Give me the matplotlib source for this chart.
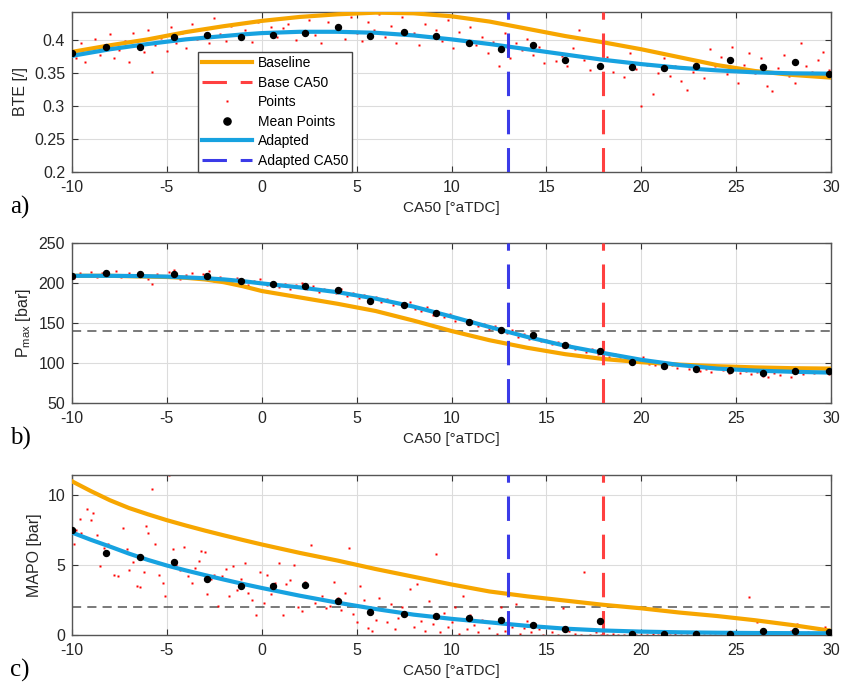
# CA50 sweep: BTE, Pmax and MAPO vs CA50, baseline vs adapted model
import matplotlib.pyplot as plt

plt.rcParams['font.family'] = ['Liberation Sans', 'DejaVu Sans']
plt.rcParams['mathtext.default'] = 'regular'
plt.rcParams['axes.unicode_minus'] = False

# fitted curves (knots every 1 deg up to 0, then every 2 deg)
x_fit = [-10, -9, -8, -7, -6, -5, -4, -3, -2, -1, 0, 2, 4, 6, 8, 10, 12, 14, 16, 18, 20, 22, 24, 26, 28, 30]
bte_base = [0.382, 0.387, 0.392, 0.3965, 0.401, 0.4065, 0.412, 0.4165, 0.421, 0.425, 0.429,
            0.435, 0.439, 0.4415, 0.4405, 0.436, 0.428, 0.417, 0.406, 0.3965, 0.386, 0.374,
            0.362, 0.353, 0.347, 0.343]
bte_adap = [0.376, 0.381, 0.386, 0.390, 0.394, 0.3975, 0.401, 0.4035, 0.406, 0.4085, 0.4105,
            0.4125, 0.4125, 0.411, 0.407, 0.401, 0.394, 0.386, 0.378, 0.370, 0.3635, 0.358,
            0.354, 0.351, 0.3495, 0.349]
pmax_base = [209, 209, 209, 208.5, 208, 207.5, 206.5, 204.5, 201, 196, 190,
             182, 174, 165, 153, 140, 128.5, 119, 111, 105, 101, 98, 96, 94.5, 93.5, 93]
pmax_adap = [209, 209, 209, 208.8, 208.5, 208, 207, 206, 204.5, 202.3, 199.5,
             194.5, 188.5, 180.5, 170.5, 158, 145, 132.5, 121.5, 112.5, 104, 97.5, 93, 90.5, 89, 88]
mapo_base = [10.95, 10.25, 9.6, 9.05, 8.6, 8.18, 7.8, 7.44, 7.1, 6.77, 6.45,
             5.85, 5.3, 4.7, 4.15, 3.6, 3.1, 2.75, 2.45, 2.15, 1.9, 1.6, 1.35, 1.05, 0.7, 0.3]
mapo_adap = [7.3, 6.78, 6.3, 5.8, 5.35, 4.95, 4.6, 4.27, 3.95, 3.64, 3.35,
             2.8, 2.3, 1.85, 1.45, 1.15, 0.9, 0.65, 0.45, 0.32, 0.24, 0.19, 0.16, 0.14, 0.13, 0.12]

# mean points
x_mean = [-10, -8.2, -6.4, -4.6, -2.9, -1.1, 0.6, 2.3, 4.0, 5.7, 7.5, 9.2,
          10.9, 12.6, 14.3, 16.0, 17.8, 19.5, 21.2, 22.9, 24.7, 26.4, 28.1, 29.9]
bte_mean = [0.381, 0.390, 0.389, 0.404, 0.407, 0.405, 0.407, 0.410, 0.420, 0.406, 0.412, 0.406,
            0.395, 0.387, 0.392, 0.370, 0.360, 0.359, 0.357, 0.361, 0.370, 0.359, 0.366, 0.349]
pmax_mean = [209, 212, 211, 211, 209, 203, 199, 196, 191, 178, 172, 162,
             151, 141, 135, 122, 115, 101, 96, 93, 91, 87, 90, 90]
mapo_mean = [7.5, 5.85, 5.55, 5.2, 4.0, 3.5, 3.5, 3.55, 2.45, 1.65, 1.5, 1.35,
             1.2, 1.05, 0.7, 0.4, 1.0, 0.05, 0.05, 0.05, 0.05, 0.3, 0.3, 0.2]

# raw points
bte_px = [-9.8, -9.6, -9.5, -9.3, -9.0, -8.8, -8.5, -8.3, -8.0, -7.8, -7.5, -7.2, -7.0, -6.8, -6.5,
          -6.2, -6.0, -5.8, -5.6, -5.3, -5.0, -4.8, -4.5, -4.2, -4.0, -3.7, -3.4, -3.1, -2.8, -2.5,
          -2.2, -1.9, -1.6, -1.2, -0.9, -0.5, -0.2, 0.2, 0.5, 0.8, 1.1, 1.4, 1.8, 2.1, 2.5,
          2.8, 3.1, 3.5, 3.8, 4.1, 4.4, 4.7, 5.0, 5.3, 5.6, 5.9, 6.2, 6.5, 6.8, 7.1,
          7.4, 7.7, 8.0, 8.3, 8.6, 8.9, 9.2, 9.5, 9.8, 10.1, 10.4, 10.7, 11.0, 11.3, 11.6,
          11.9, 12.2, 12.5, 12.8, 13.1, 13.4, 13.7, 14.0, 14.3, 14.6, 14.9, 15.2, 15.5, 15.8, 16.1,
          16.4, 16.7, 17.0, 17.3, 17.6, 17.9, 18.2, 18.5, 18.8, 19.1, 19.4, 19.7, 20.0, 20.3, 20.6,
          20.9, 21.2, 21.5, 21.8, 22.1, 22.4, 22.7, 23.0, 23.3, 23.6, 23.9, 24.2, 24.5, 24.8, 25.1,
          25.4, 25.7, 26.0, 26.3, 26.6, 26.9, 27.2, 27.5, 27.8, 28.1, 28.4, 28.7, 29.0, 29.3, 29.6, 29.9]
bte_py = [0.372, 0.385, 0.395, 0.366, 0.388, 0.401, 0.378, 0.392, 0.409, 0.372, 0.385, 0.398, 0.366, 0.410, 0.394,
          0.382, 0.415, 0.351, 0.392, 0.403, 0.384, 0.420, 0.396, 0.410, 0.388, 0.425, 0.402, 0.417, 0.395, 0.433,
          0.409, 0.398, 0.421, 0.404, 0.415, 0.397, 0.428, 0.410, 0.420, 0.404, 0.418, 0.425, 0.400, 0.414, 0.431,
          0.407, 0.395, 0.428, 0.445, 0.418, 0.402, 0.435, 0.410, 0.398, 0.428, 0.415, 0.440, 0.405, 0.422, 0.395,
          0.435, 0.445, 0.410, 0.392, 0.425, 0.405, 0.415, 0.398, 0.430, 0.388, 0.412, 0.400, 0.420, 0.392, 0.405,
          0.380, 0.397, 0.360, 0.410, 0.372, 0.395, 0.385, 0.402, 0.378, 0.390, 0.365, 0.382, 0.368, 0.376, 0.360,
          0.388, 0.415, 0.370, 0.354, 0.398, 0.362, 0.375, 0.352, 0.368, 0.344, 0.380, 0.356, 0.300, 0.362, 0.318,
          0.350, 0.372, 0.345, 0.360, 0.338, 0.325, 0.352, 0.368, 0.342, 0.386, 0.360, 0.375, 0.348, 0.390, 0.335,
          0.362, 0.380, 0.350, 0.372, 0.330, 0.322, 0.358, 0.378, 0.345, 0.335, 0.396, 0.360, 0.352, 0.370, 0.382, 0.355]

pmax_px = [-9.9, -9.6, -9.3, -9.0, -8.7, -8.4, -8.0, -7.7, -7.4, -7.0, -6.7, -6.4, -6.0, -5.8, -5.5,
           -5.2, -4.9, -4.6, -4.3, -4.0, -3.7, -3.4, -3.1, -2.8, -2.5, -2.2, -1.9, -1.6, -1.3, -1.0,
           -0.7, -0.4, -0.1, 0.3, 0.6, 0.9, 1.2, 1.5, 1.8, 2.1, 2.4, 2.7, 3.0, 3.3, 3.6,
           3.9, 4.2, 4.5, 4.8, 5.1, 5.4, 5.7, 6.0, 6.3, 6.6, 6.9, 7.2, 7.5, 7.8, 8.1,
           8.4, 8.7, 9.0, 9.3, 9.6, 9.9, 10.2, 10.5, 10.8, 11.1, 11.4, 11.7, 12.0, 12.3, 12.6,
           12.9, 13.2, 13.5, 13.8, 14.1, 14.4, 14.7, 15.0, 15.3, 15.6, 15.9, 16.2, 16.5, 16.8, 17.1,
           17.4, 17.7, 18.0, 18.3, 18.6, 18.9, 19.2, 19.5, 19.8, 20.1, 20.4, 20.7, 21.0, 21.3, 21.6,
           21.9, 22.2, 22.5, 22.8, 23.1, 23.4, 23.7, 24.0, 24.3, 24.6, 24.9, 25.2, 25.5, 25.8, 26.1,
           26.4, 26.7, 27.0, 27.3, 27.6, 27.9, 28.2, 28.5, 28.8, 29.1, 29.4, 29.7, 29.9]
pmax_py = [206, 212, 210, 214, 208, 213, 210, 215, 207, 212, 209, 214, 205, 199, 211,
           208, 214, 216, 205, 210, 213, 206, 211, 215, 203, 208, 205, 201, 206, 203,
           198, 202, 205, 197, 201, 195, 199, 193, 197, 200, 192, 196, 189, 193, 190,
           187, 192, 184, 188, 181, 185, 179, 182, 176, 180, 172, 175, 170, 176, 168,
           165, 170, 160, 163, 157, 161, 152, 155, 150, 153, 146, 149, 143, 146, 140,
           137, 141, 133, 136, 130, 134, 127, 129, 124, 126, 120, 123, 117, 119, 114,
           117, 111, 113, 108, 111, 105, 107, 101, 104, 108, 99, 97, 101, 95, 98,
           94, 97, 92, 95, 90, 93, 89, 94, 91, 87, 92, 88, 90, 86, 89,
           84, 82, 88, 85, 91, 83, 89, 86, 90, 87, 89, 92, 86]

mapo_px = [-9.9, -9.8, -9.6, -9.5, -9.2, -9.0, -8.9, -8.7, -8.5, -8.3, -8.1, -7.8, -7.6, -7.3, -7.1,
           -7.0, -6.8, -6.6, -6.4, -6.2, -6.1, -6.0, -5.8, -5.6, -5.4, -5.2, -5.1, -4.9, -4.7, -4.5,
           -4.3, -4.1, -3.9, -3.7, -3.5, -3.3, -3.2, -3.0, -2.9, -2.7, -2.5, -2.3, -2.1, -1.9, -1.7,
           -1.5, -1.3, -1.1, -0.9, -0.7, -0.5, -0.3, -0.1, 0.1, 0.3, 0.5, 0.7, 0.9, 1.1, 1.3,
           1.5, 1.7, 1.9, 2.1, 2.3, 2.6, 2.8, 3.0, 3.2, 3.4, 3.6, 3.8, 4.0, 4.2, 4.4,
           4.6, 4.8, 5.0, 5.2, 5.4, 5.6, 5.8, 6.0, 6.2, 6.4, 6.6, 6.8, 7.0, 7.2, 7.4,
           7.6, 7.8, 8.0, 8.2, 8.4, 8.6, 8.8, 9.0, 9.2, 9.4, 9.6, 9.8, 10.0, 10.2, 10.4,
           10.6, 10.8, 11.0, 11.2, 11.4, 11.6, 11.8, 12.0, 12.2, 12.4, 12.6, 12.8, 13.0, 13.2, 13.4,
           13.6, 13.8, 14.0, 14.2, 14.4, 14.6, 14.8, 15.0, 15.3, 15.6, 15.9, 16.2, 16.5, 16.8, 17.0,
           17.3, 17.6, 17.9, 18.2, 18.5, 18.8, 19.1, 19.4, 19.7, 20.0, 20.3, 20.6, 20.9, 21.2, 21.5,
           21.8, 22.1, 22.4, 22.7, 23.0, 23.3, 23.6, 23.9, 24.2, 24.5, 24.8, 25.1, 25.4, 25.7, 25.9,
           26.1, 26.4, 26.7, 27.0, 27.3, 27.6, 27.9, 28.2, 28.5, 28.8, 29.1, 29.4, 29.7, 29.9]
mapo_py = [6.5, 7.5, 8.3, 7.3, 9.0, 8.2, 8.7, 7.1, 4.9, 6.2, 6.5, 4.3, 4.2, 7.6, 6.1,
           4.6, 5.2, 3.5, 3.4, 4.5, 7.8, 7.3, 10.4, 6.5, 4.3, 3.7, 2.8, 11.4, 6.1, 5.0,
           4.6, 6.3, 4.2, 3.7, 4.8, 5.3, 6.0, 5.9, 2.9, 4.0, 4.3, 2.1, 4.2, 4.7, 2.8,
           4.9, 3.2, 4.0, 5.1, 3.0, 2.5, 1.4, 4.5, 2.3, 4.3, 2.9, 3.7, 5.1, 1.4, 3.6,
           3.9, 5.0, 2.0, 1.7, 3.8, 6.4, 2.3, 5.6, 2.8, 1.9, 2.1, 3.8, 2.6, 1.8, 3.0,
           6.2, 1.5, 0.9, 3.5, 2.5, 0.5, 0.3, 1.1, 2.6, 1.8, 0.9, 2.2, 0.4, 1.2, 2.0,
           1.4, 3.3, 0.6, 3.6, 1.0, 0.3, 2.4, 0.8, 5.8, 0.2, 1.6, 0.6, 0.9, 2.0, 0.1,
           2.8, 0.4, 1.4, 0.7, 0.2, 1.1, 3.2, 0.5, 0.9, 0.1, 2.0, 0.3, 1.2, 0.6, 2.2,
           0.1, 0.5, 1.0, 0.2, 0.8, 0.4, 0.0, 0.6, 0.2, 0.0, 1.9, 0.3, 0.1, 0.0, 4.5,
           0.0, 0.2, 0.0, 0.0, 0.1, 0.0, 0.0, 0.1, 0.0, 0.0, 0.0, 0.1, 0.0, 0.0, 0.0,
           0.1, 0.0, 0.0, 0.0, 0.1, 0.0, 0.0, 0.0, 0.0, 0.1, 0.0, 0.0, 0.0, 2.7, 0.0,
           0.9, 0.0, 0.2, 0.9, 0.0, 0.1, 0.3, 0.8, 0.0, 0.2, 0.0, 0.1, 0.6, 0.3]

ca50_base = 18
ca50_adap = 13
pmax_limit = 140
mapo_limit = 2

c_base = '#F7A600'
c_adap = '#17A2E0'
c_red = '#FF4040'
c_blue = '#3B3BE8'

fig = plt.figure(figsize=(8.43, 6.89), dpi=100)

left, width, height = 0.0854, 0.9004, 0.2322
panels = [
    (0.7504, bte_base, bte_adap, bte_px, bte_py, bte_mean, (0.2, 0.4425),
     [0.2, 0.25, 0.3, 0.35, 0.4], ['0.2', '0.25', '0.3', '0.35', '0.4'], 'BTE [/]', None, 'a)'),
    (0.4151, pmax_base, pmax_adap, pmax_px, pmax_py, pmax_mean, (50, 250),
     [50, 100, 150, 200, 250], ['50', '100', '150', '200', '250'], r'P$_{max}$ [bar]', pmax_limit, 'b)'),
    (0.0784, mapo_base, mapo_adap, mapo_px, mapo_py, mapo_mean, (0, 11.4),
     [0, 5, 10], ['0', '5', '10'], 'MAPO [bar]', mapo_limit, 'c)'),
]

for i, (bottom, yb, ya, px, py, ym, ylim, yticks, ylabels, ylab, limit, tag) in enumerate(panels):
    ax = fig.add_axes([left, bottom, width, height])
    ax.plot(x_fit, yb, color=c_base, lw=3, label='Baseline', zorder=3)
    ax.axvline(ca50_base, color=c_red, lw=2.2, ls=(0, (8, 4.5)), label='Base CA50', zorder=4)
    ax.plot(px, py, ls='none', marker='s', ms=1.6, color='red', mec='none', label='Points', zorder=2)
    ax.plot(x_mean, ym, ls='none', marker='o', ms=4.3, color='black', label='Mean Points', zorder=5)
    ax.plot(x_fit, ya, color=c_adap, lw=3, label='Adapted', zorder=4)
    ax.axvline(ca50_adap, color=c_blue, lw=2.2, ls=(0, (8, 4.5)), label='Adapted CA50', zorder=4)
    if limit is not None:
        ax.axhline(limit, color='#555555', lw=1.1, ls=(0, (6, 4)), zorder=1)

    ax.set_xlim(-10, 30)
    ax.set_ylim(*ylim)
    ax.set_xticks(range(-10, 31, 5))
    ax.set_yticks(yticks)
    ax.set_yticklabels(ylabels)
    ax.grid(True, color='#dcdcdc', lw=0.8)
    ax.set_axisbelow(True)
    ax.tick_params(direction='in', length=4, top=True, right=True, labelsize=11.5,
                   colors='#333333', labelcolor='#262626')
    ax.tick_params(axis='x', pad=6)
    ax.tick_params(axis='y', pad=5)
    for sp in ax.spines.values():
        sp.set_color('#555555')
        sp.set_linewidth(1.0)
    ax.set_xlabel('CA50 [°aTDC]', fontsize=11, color='#262626', labelpad=4)
    ax.set_ylabel(ylab, fontsize=11.5, color='#262626')
    fig.text(0.012, bottom - 0.052, tag, fontsize=18, family='Liberation Serif', va='center')

    if i == 0:
        ax.legend(loc='lower left', bbox_to_anchor=(0.166, 0.0), borderaxespad=0,
                  fancybox=False, edgecolor='#444444', framealpha=1, fontsize=10,
                  handlelength=3.6, labelspacing=0.4, borderpad=0.3, handletextpad=0.4,
                  markerscale=1.2)

plt.savefig('out.png', dpi=100)
plt.close()
